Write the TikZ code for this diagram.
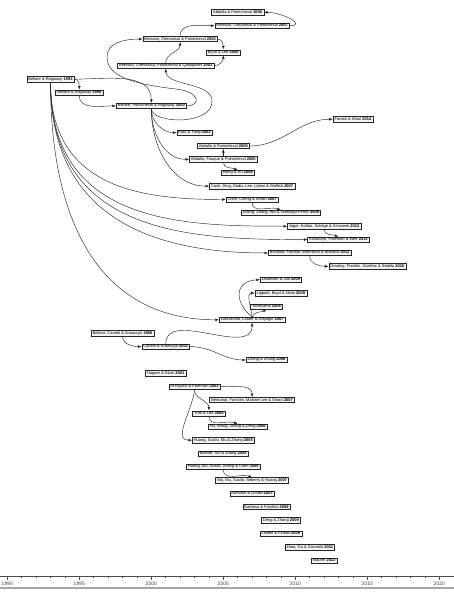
\documentclass[tikz,border=0pt]{standalone}
\usepackage{fontspec}
\setmainfont{Liberation Sans}
\usetikzlibrary{arrows.meta}
\tikzset{
  pub/.style={draw=black!85, fill=gray!8, line width=0.45pt, inner xsep=1.6pt, inner ysep=0.8pt,
    font=\fontsize{4}{4.5}\selectfont, text height=2.9pt, text depth=0.85pt},
  cite/.style={-{Latex[length=3.6pt,width=2.8pt]}, draw=black!85, line width=0.45pt},
  axisline/.style={draw=black!70, line width=0.5pt},
  yearlabel/.style={font=\fontsize{5}{6}\selectfont, text=black!75, inner sep=0pt},
}
\newcommand\pubnode[4]{\node[pub] (#1) at ({7.3+(#3-1990)*14.4},{12.3+13.37*#2}) {#4 \textbf{#3}};}
\begin{document}
\begin{tikzpicture}[x=1pt,y=-1pt]
\useasboundingbox (0,0) rectangle (454,600);
% publications
\pubnode{n0}{0}{2006}{Abdalla \& Pointcheval}
\pubnode{n1}{1}{2007}{Bresson, Chevassut \& Pointcheval}
\pubnode{n2}{2}{2002}{Bresson, Chevassut \& Pointcheval}
\pubnode{n3}{3}{2005}{Byun \& Lee}
\pubnode{n4}{4}{2001}{Bresson, Chevassut, Pointcheval \& Quisquater}
\pubnode{n5}{5}{1993}{Bellare \& Rogaway}
\pubnode{n6}{6}{1995}{Bellare \& Rogaway}
\pubnode{n7}{7}{2000}{Bellare, Pointcheval \& Rogaway}
\pubnode{n8}{8}{2014}{Farash \& Attari}
\pubnode{n9}{9}{2003}{Katz \& Yung}
\pubnode{n10}{10}{2005}{Abdalla \& Pointcheval}
\pubnode{n11}{11}{2005}{Abdalla, Fouque \& Pointcheval}
\pubnode{n12}{12}{2006}{Wang \& Hu}
\pubnode{n13}{13}{2007}{Cash, Ding, Dodis, Lee, Lipton \& Walfish}
\pubnode{n14}{14}{2007}{Chen, Cheng \& Smart}
\pubnode{n15}{15}{2009}{Zhang, Zhang, Wu \& Domingo-Ferrer}
\pubnode{n16}{16}{2012}{Jager, Kohlar, Schäge \& Schwenk}
\pubnode{n17}{17}{2013}{Krawczyk, Paterson \& Wee}
\pubnode{n18}{18}{2011}{Brzuska, Fischlin, Warinschi \& Williams}
\pubnode{n19}{19}{2015}{Dowling, Fischlin, Günther \& Stebila}
\pubnode{n20}{20}{2009}{Dalamion \& Jao}
\pubnode{n21}{21}{2009}{Lippold, Boyd \& Nieto}
\pubnode{n22}{22}{2008}{Yoneyama}
\pubnode{n23}{23}{2007}{LaMacchia, Lauter \& Mityagin}
\pubnode{n24}{24}{1998}{Bellare, Canetti \& Krawczyk}
\pubnode{n25}{25}{2001}{Canetti \& Krawczyk}
\pubnode{n26}{26}{2008}{Zhang \& Zhang}
\pubnode{n27}{27}{2001}{Hopper \& Blum}
\pubnode{n28}{28}{2003}{Al-Riyami \& Paterson}
\pubnode{n29}{29}{2007}{Bentahar, Farshim, Malone-Lee \& Smart}
\pubnode{n30}{30}{2004}{Yum \& Lee}
\pubnode{n31}{31}{2006}{Hu, Wong, Zhang \& Deng}
\pubnode{n32}{32}{2005}{Huang, Susilo, Mu \& Zhang}
\pubnode{n33}{33}{2005}{Bellare, Shi \& Zhang}
\pubnode{n34}{34}{2005}{Huang, Mu, Susilo, Zhang \& Chen}
\pubnode{n35}{35}{2007}{Wu, Mu, Susilo, Seberry \& Huang}
\pubnode{n36}{36}{2007}{Aumann \& Lindell}
\pubnode{n37}{37}{2008}{Barbosa \& Farshim}
\pubnode{n38}{38}{2009}{Deng \& Zhang}
\pubnode{n39}{39}{2009}{Lindell \& Pinkas}
\pubnode{n40}{40}{2011}{Zhao, Gu \& Gorantla}
\pubnode{n41}{41}{2012}{Maurer}
% citations
\draw[cite] (n5.east) to[out=0,in=90] (n6.north);
\draw[cite] (n5.east) to[out=0,in=90] (n7.north);
\draw[cite] (n6.south) to[out=-90,in=180] (n7.west);
\draw[cite] (n7.east) .. controls (201,106) and (201,92) .. (176,89)
  .. controls (132,84) and (107,76) .. (107,57)
  .. controls (107,43) and (124,39) .. (n2.west);
\draw[cite] (n7.south) .. controls (152,124) and (214,126) .. (212,100)
  .. controls (210,82) and (167,86) .. (n4.south);
\draw[cite] (n4.north) to[out=90,in=-90] (n2.south);
\draw[cite] (n4.east) to[out=0,in=-90] (n3.south);
\draw[cite] (n2.east) to[out=0,in=90] (n3.north);
\draw[cite] (n2.north) to[out=90,in=180] (n1.west);
\draw[cite] (n1.east) to[out=0,in=0,looseness=1.6] (n0.east);
\foreach \t in {n14,n16,n17,n18,n23}
  \draw[cite] (n5.south) to[out=-90,in=180,out looseness=1.3] (\t.west);
\foreach \t in {n9,n11,n13}
  \draw[cite] (n7.south) to[out=-90,in=180] (\t.west);
\draw[cite] (n10.east) to[out=0,in=180] (n8.west);
\draw[cite] (n11.north) -- (n10.south);
\draw[cite] (n11.south) to[out=-90,in=160] (n12.north);
\draw[cite] (n14.south) to[out=-90,in=160] (n15.north);
\draw[cite] (n16.south) to[out=-90,in=160] (n17.north);
\draw[cite] (n18.south) to[out=-90,in=180] (n19.west);
\draw[cite] (n23.north) .. controls (236,305) and (232,281) .. (n20.west);
\draw[cite] (n23.north) to[out=95,in=180] (n21.west);
\draw[cite] (n23.north) to[out=70,in=-150] (n22.south);
\draw[cite] (n25.north) to[out=90,in=-90] (n23.south);
\draw[cite] (n25.east) to[out=0,in=180] (n26.west);
\draw[cite] (n24.south) to[out=-90,in=180] (n25.west);
\draw[cite] (n28.east) to[out=0,in=90] (n29.north);
\draw[cite] (n28.south) to[out=-90,in=90] (n30.north);
\draw[cite] (n28.south) to[out=-95,in=180] (n32.west);
\draw[cite] (n30.south) to[out=-90,in=160] (n31.north);
\draw[cite] (n34.south) to[out=-90,in=160] (n35.north);
% time axis
\draw[axisline] (0,576) -- (454,576);
\foreach \yr in {1990,...,2020} {
  \pgfmathtruncatemacro\r{mod(\yr,5)}
  \ifnum\r=0
    \draw[axisline] ({7.3+(\yr-1990)*14.4},576) -- ++(0,4.2);
  \else
    \draw[axisline] ({7.3+(\yr-1990)*14.4},576) -- ++(0,2.2);
  \fi
}
\foreach \yr in {1990,1995,...,2020}
  \node[yearlabel] (y\yr) at ({7.3+(\yr-1990)*14.4},583.8) {\yr};
\draw[draw=gray!70, line width=1.1pt] (0,588) -- (454,588);
\end{tikzpicture}
\end{document}
